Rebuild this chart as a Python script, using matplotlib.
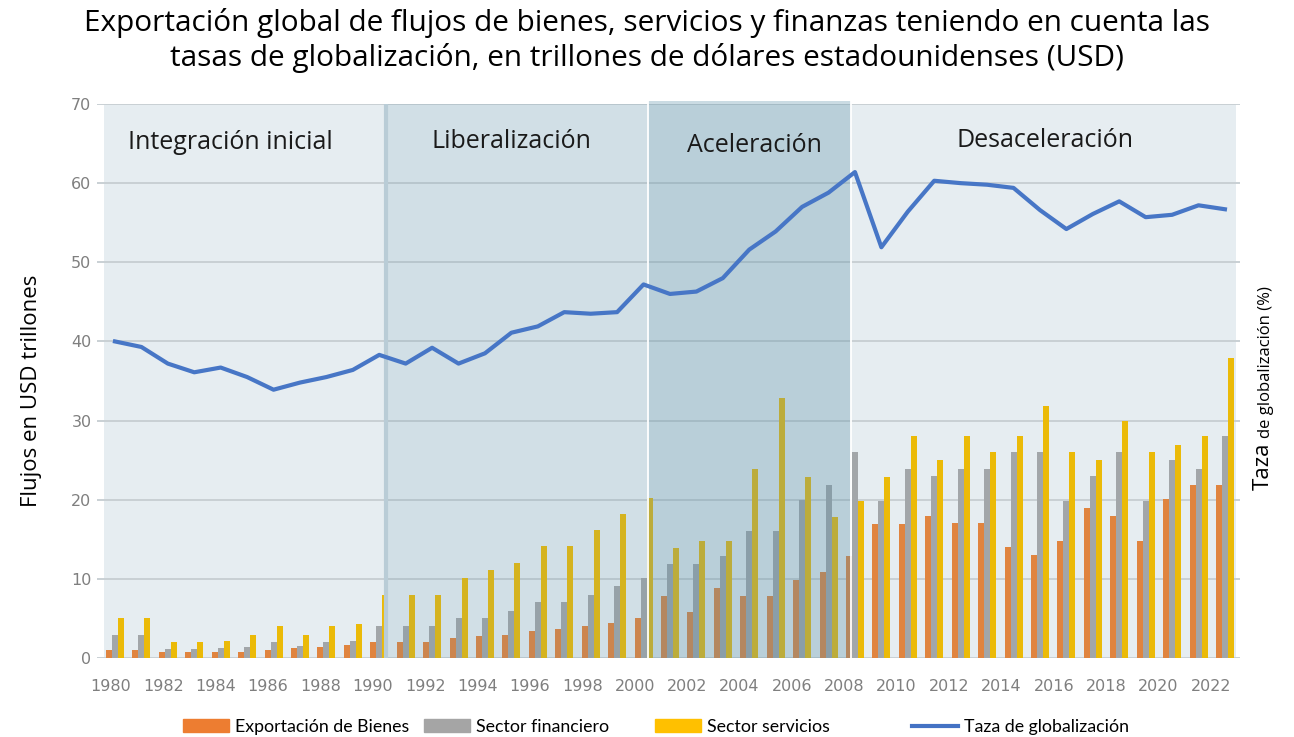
import matplotlib
matplotlib.use("Agg")
import matplotlib.pyplot as plt
import matplotlib.transforms as mtransforms
from matplotlib.patches import Patch
from matplotlib.lines import Line2D
import numpy as np

# --- data ---------------------------------------------------------------
years = list(range(1980, 2023))

bienes = [1.0, 1.0, 0.7, 0.7, 0.8, 0.8, 1.0, 1.3, 1.4, 1.7,
          2.0, 2.0, 2.0, 2.5, 2.8, 2.9, 3.4, 3.7, 4.1, 4.4,
          5.0, 7.8, 5.8, 8.9, 7.8, 7.8, 9.9, 10.9, 12.9, 16.9,
          16.9, 17.9, 17.0, 17.0, 14.0, 13.0, 14.8, 19.0, 17.9, 14.8,
          20.1, 21.9, 21.9]
financiero = [2.9, 2.9, 1.2, 1.2, 1.3, 1.4, 2.0, 1.5, 2.0, 2.1,
              4.0, 4.1, 4.1, 5.0, 5.0, 6.0, 7.1, 7.1, 8.0, 9.1,
              10.1, 11.9, 11.9, 12.9, 16.0, 16.0, 20.0, 21.9, 26.0, 19.9,
              23.9, 23.0, 23.9, 23.9, 26.0, 26.0, 19.9, 23.0, 26.0, 19.9,
              25.0, 23.9, 28.0]
servicios = [5.0, 5.0, 2.0, 2.0, 2.1, 2.9, 4.0, 2.9, 4.0, 4.3,
             8.0, 8.0, 8.0, 10.1, 11.1, 12.0, 14.2, 14.2, 16.2, 18.2,
             20.2, 13.9, 14.8, 14.8, 23.9, 32.9, 22.9, 17.8, 19.9, 22.9,
             28.0, 25.0, 28.0, 26.0, 28.0, 31.9, 26.0, 25.0, 29.9, 26.0,
             26.9, 28.0, 37.9]
globalizacion = [40.0, 39.3, 37.2, 36.1, 36.7, 35.5, 33.9, 34.8, 35.5, 36.4,
                 38.3, 37.2, 39.2, 37.2, 38.5, 41.1, 41.9, 43.7, 43.5, 43.7,
                 47.2, 46.0, 46.3, 48.0, 51.6, 53.9, 57.0, 58.8, 61.4, 51.9,
                 56.4, 60.3, 60.0, 59.8, 59.4, 56.6, 54.2, 56.1, 57.7, 55.7,
                 56.0, 57.2, 56.7]

periodos = ["Integración inicial", "Liberalización", "Aceleración", "Desaceleración"]
periodo_inicio = [-0.42, 10.25, 20.17, 27.85]   # bar-slot index where each period starts
periodo_fin = [10.25, 20.17, 27.85, 42.42]
periodo_alpha = [0.0, 0.15, 0.32, 0.0]             # overlay strength
periodo_label_pos = [(4.35, 65.1), (15.02, 65.2), (24.18, 64.7), (35.19, 65.45)]

C_BIENES = "#E0843F"
C_FIN = "#A2A6A9"
C_SERV = "#EBBA08"
C_LINE = "#4776C6"
C_BG = "#E6EDF1"
C_OVER = "#5A90A8"

plt.rcParams["font.family"] = ["Open Sans", "DejaVu Sans"]

W, H = 1294, 737
fig = plt.figure(figsize=(W / 100, H / 100), dpi=100)
ax = fig.add_axes([97 / W, (H - 658) / H, (1240 - 97) / W, (658 - 104) / H])

x = np.arange(len(years))
bw = 0.227

ax.set_xlim(-0.68, 42.57)
ax.set_ylim(0, 70)

# plot background
ax.axvspan(-0.42, 42.42, ymin=0, ymax=1, color=C_BG, zorder=0, lw=0)

# grid
for v in range(0, 80, 10):
    ax.axhline(v, color="#C9D0D4", lw=1.4, zorder=0.5)

ax.bar(x - bw, bienes, width=bw, color=C_BIENES, zorder=2)
ax.bar(x, financiero, width=bw, color=C_FIN, zorder=2)
ax.bar(x + bw, servicios, width=bw, color=C_SERV, zorder=2)

# period overlays (drawn over bars, under the line)
for name, a, b, al, (lx, ly) in zip(periodos, periodo_inicio, periodo_fin,
                                     periodo_alpha, periodo_label_pos):
    if al > 0:
        top = 70.4 if al > 0.2 else 70.0
        ax.fill_between([a, b], 0, top, color=C_OVER, alpha=al, lw=0,
                        zorder=3, clip_on=False)
    ax.text(lx, ly, name, ha="center", va="center", fontsize=18,
            color="#1a1a1a", zorder=6)

ax.plot([periodo_inicio[1]] * 2, [0, 70], color="#B9CCD6", lw=3, zorder=3.1)
for b in (periodo_inicio[2], periodo_inicio[3]):
    ax.plot([b, b], [0, 70.4], color="white", lw=1.3, zorder=3.2, clip_on=False)

ax.plot(x, globalizacion, color=C_LINE, lw=3, zorder=5, solid_joinstyle="round")

for s in ax.spines.values():
    s.set_visible(False)
ax.tick_params(length=0)
ax.set_yticks(range(0, 80, 10))
ax.tick_params(axis="y", labelsize=11.5, labelcolor="#7F7F7F", pad=4)
ax.set_yticklabels([str(v) for v in range(0, 80, 10)], family="DejaVu Sans")
ax.set_xticks(x[::2])
ax.set_xticklabels([str(y) for y in years[::2]], family="DejaVu Sans")
ax.tick_params(axis="x", labelsize=11.5, labelcolor="#7F7F7F", pad=15)
for i, lab in enumerate(ax.get_xticklabels()):
    # category labels drift slightly left of the bar groups, as in the source
    shift = mtransforms.ScaledTranslation(-(4 + i * 0.48) / 100, 0, fig.dpi_scale_trans)
    lab.set_transform(lab.get_transform() + shift)

# titles and axis labels
fig.text(0.5, 1 - 23 / H,
         "Exportación global de flujos de bienes, servicios y finanzas teniendo en cuenta las",
         ha="center", va="center", fontsize=21.4)
fig.text(0.5, 1 - 58 / H,
         "tasas de globalización, en trillones de dólares estadounidenses (USD)",
         ha="center", va="center", fontsize=21.4)
fig.text(32 / W, 1 - 391 / H, "Flujos en USD trillones", rotation=90,
         ha="center", va="center", fontsize=16)

t1 = fig.text(1263 / W, 1 - 490 / H, "Taza", rotation=90, ha="center",
              va="bottom", fontsize=16)
fig.canvas.draw()
bb = t1.get_window_extent()
fig.text(1266 / W, (bb.y1 + 4) / H, "de globalización (%)", rotation=90,
         ha="center", va="bottom", fontsize=12)

# legend, one entry per block so the irregular spacing can be kept
leg_font = ["Lato", "DejaVu Sans"]
entries = [
    (Patch(color="#ED7D31"), "Exportación de Bienes", 183),
    (Patch(color="#A5A5A5"), "Sector financiero", 424),
    (Patch(color="#FFC000"), "Sector servicios", 655),
    (Line2D([], [], color="#4472C4", lw=3), "Taza de globalización", 912),
]
for h, lab, px in entries:
    lg = fig.legend([h], [lab], loc="center left",
                    bbox_to_anchor=(px / W, 1 - 727 / H), frameon=False,
                    handlelength=2.6, handleheight=0.75, handletextpad=0.3,
                    borderpad=0, borderaxespad=0,
                    prop={"family": leg_font, "size": 12.8})

fig.savefig("out.png", dpi=100)
